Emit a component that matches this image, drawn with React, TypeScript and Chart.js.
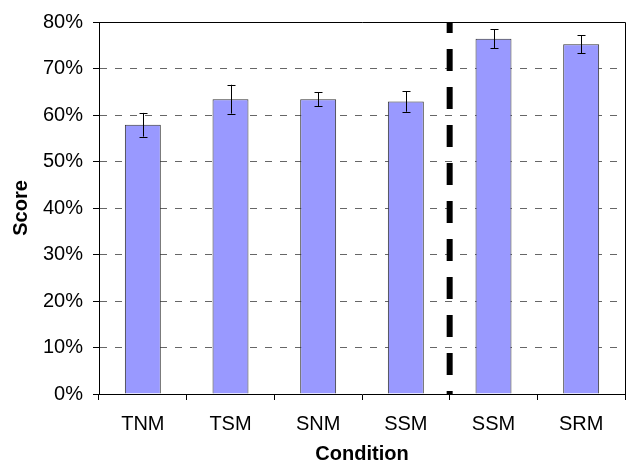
import React, { useEffect, useRef } from "react";
import { Chart, registerables } from "chart.js";

Chart.register(...registerables);

const categories = ["TNM", "TSM", "SNM", "SSM", "SSM", "SRM"];
const scores = [57.9, 63.4, 63.4, 62.9, 76.4, 75.2];
const errors = [2.55, 3.1, 1.5, 2.2, 2.05, 1.9];
const yTicksMax = 80;
const dividerAfterIndex = 3;

const FONT = "'Liberation Sans', Arial, sans-serif";

const overlayPlugin = {
  id: "overlay",
  afterDatasetsDraw(chart: any) {
    const { ctx, chartArea, scales } = chart;
    const x = scales.x;
    const y = scales.y;
    ctx.save();
    // error bars
    ctx.strokeStyle = "#000";
    ctx.lineWidth = 1;
    scores.forEach((v, i) => {
      const cx = Math.round(x.getPixelForValue(i)) + 0.5;
      const yt = y.getPixelForValue(v + errors[i]);
      const yb = y.getPixelForValue(v - errors[i]);
      ctx.beginPath();
      ctx.moveTo(cx, yt);
      ctx.lineTo(cx, yb);
      ctx.moveTo(cx - 4, Math.round(yt) + 0.5);
      ctx.lineTo(cx + 4, Math.round(yt) + 0.5);
      ctx.moveTo(cx - 4, Math.round(yb) + 0.5);
      ctx.lineTo(cx + 4, Math.round(yb) + 0.5);
      ctx.stroke();
    });
    // frame top and right
    ctx.beginPath();
    ctx.moveTo(chartArea.left, Math.round(chartArea.top) + 0.5);
    ctx.lineTo(Math.round(chartArea.right) + 0.5, Math.round(chartArea.top) + 0.5);
    ctx.lineTo(Math.round(chartArea.right) + 0.5, chartArea.bottom);
    ctx.stroke();
    // divider
    const dx =
      (x.getPixelForValue(dividerAfterIndex) +
        x.getPixelForValue(dividerAfterIndex + 1)) /
      2;
    ctx.beginPath();
    ctx.lineWidth = 6;
    ctx.setLineDash([22, 16]);
    ctx.lineDashOffset = 11;
    ctx.moveTo(dx, chartArea.top);
    ctx.lineTo(dx, chartArea.bottom);
    ctx.stroke();
    ctx.restore();
  },
};

export default function App() {
  const ref = useRef<HTMLCanvasElement>(null);
  useEffect(() => {
    document.body.style.margin = "0";
    const chart = new Chart(ref.current!, {
      type: "bar",
      data: {
        labels: categories,
        datasets: [
          {
            data: scores,
            backgroundColor: "#9999FF",
            borderColor: "#333333",
            borderWidth: 1,
            barPercentage: 0.41,
            categoryPercentage: 1,
          },
        ],
      },
      options: {
        animation: false,
        responsive: false,
        maintainAspectRatio: false,
        layout: { padding: { top: 15, right: 6, left: 0, bottom: 0 } },
        plugins: {
          legend: { display: false },
          tooltip: { enabled: false },
        },
        scales: {
          x: {
            afterFit: (s: any) => {
              s.height = 72;
            },
            grid: {
              display: true,
              offset: true,
              drawOnChartArea: false,
              drawTicks: true,
              tickLength: 6,
              tickColor: "#000",
            },
            border: { display: true, color: "#000", width: 1 },
            ticks: {
              color: "#000",
              font: { family: FONT, size: 20 },
              padding: 12,
              maxRotation: 0,
            },
            title: {
              display: true,
              text: "Condition",
              color: "#000",
              font: { family: FONT, size: 20, weight: "bold" },
              padding: { top: 0, bottom: 0 },
            },
          },
          y: {
            min: 0,
            max: yTicksMax,
            afterFit: (s: any) => {
              s.width = 99;
            },
            grid: {
              color: "#666666",
              drawTicks: true,
              tickLength: 6,
              tickColor: "#000",
              tickBorderDash: [],
            } as any,
            border: { display: true, color: "#000", width: 1, dash: [7, 8] },
            ticks: {
              stepSize: 10,
              color: "#000",
              font: { family: FONT, size: 20 },
              padding: 10,
              callback: (v: any) => v + "%",
            },
            title: {
              display: true,
              text: "Score",
              color: "#000",
              font: { family: FONT, size: 20, weight: "bold" },
              padding: { top: 9, bottom: 0 },
            },
          },
        },
      },
      plugins: [overlayPlugin],
    });
    return () => chart.destroy();
  }, []);
  return (
    <div style={{ width: 631, height: 466 }}>
      <canvas ref={ref} width={631} height={466} style={{ display: "block" }} />
    </div>
  );
}
